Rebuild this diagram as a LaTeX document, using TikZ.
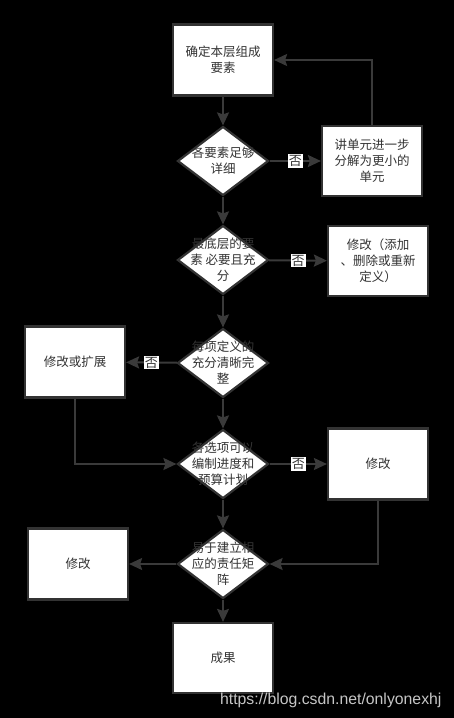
\documentclass[tikz,border=0pt]{standalone}
\usepackage{fontspec}
\newfontfamily\cjk{Noto Sans CJK SC}
\newfontfamily\wmfont{Liberation Sans}
\usepackage{tikz}
\usetikzlibrary{arrows.meta,positioning,shapes.geometric}
\definecolor{edgegray}{HTML}{3A3A3A}
\definecolor{inkgray}{HTML}{333333}
\tikzset{
  procbox/.style={draw=inkgray, line width=2.2pt, fill=white, minimum width=100pt, minimum height=71pt, inner sep=0pt, align=center, text=inkgray, font=\cjk\fontsize{12.5pt}{16pt}\selectfont},
  decbox/.style={diamond, draw=inkgray, line width=2.2pt, fill=white, minimum width=91pt, minimum height=69pt, inner sep=0pt},
  dectext/.style={align=center, text=inkgray, inner sep=0pt, font=\cjk\fontsize{12.5pt}{16pt}\selectfont},
  flowline/.style={-{Stealth[length=13pt,width=12pt,inset=2pt]}, draw=edgegray, line width=2pt},
  nolabel/.style={fill=white, inner sep=1pt, text=inkgray, font=\cjk\fontsize{13pt}{14pt}\selectfont},
}

\begin{document}
\begin{tikzpicture}[x=1pt, y=-1pt]
  % background
  \fill[black] (0,0) rectangle (454,718);

  \node[procbox] (b1) at (223,60) {确定本层组成\\要素};
  \node[decbox, label={[dectext]center:各要素足够\\详细}] (d1) at (223,161) {};
  \node[procbox, minimum height=70pt] (b2) at (372,161) {讲单元进一步\\分解为更小的\\单元};

  \node[decbox, label={[dectext]center:最底层的要\\素 必要且充\\分}] (d2) at (223,260) {};
  \node[procbox, minimum height=70pt] (b3) at (378,261) {修改（添加\\、删除或重新\\定义）};

  \node[decbox, label={[dectext]center:每项定义的\\充分清晰完\\整}] (d3) at (223,363) {};
  \node[procbox] (b4) at (75,362) {修改或扩展};

  \node[decbox, label={[dectext]center:各选项可以\\编制进度和\\预算计划}] (d4) at (223,464) {};
  \node[procbox] (b5) at (378,464) {修改};

  \node[decbox, label={[dectext]center:易于建立相\\应的责任矩\\阵}] (d5) at (223,564) {};
  \node[procbox] (b6) at (78,564) {修改};

  \node[procbox, minimum height=70pt] (b7) at (223,658) {成果};

  \draw[flowline] (b1) -- (d1);
  \draw[flowline] (d1) -- node[nolabel] (n1) {否} (b2);
  \draw[flowline] (b2.north) |- (b1.east);
  \draw[flowline] (d1) -- (d2);
  \draw[flowline] (d2) -- node[nolabel] (n2) {否} (b3);
  \draw[flowline] (d2) -- (d3);
  \draw[flowline] (d3) -- node[nolabel] (n3) {否} (b4);
  \draw[flowline] (b4.south) |- (d4.west);
  \draw[flowline] (d3) -- (d4);
  \draw[flowline] (d4) -- node[nolabel] (n4) {否} (b5);
  \draw[flowline] (b5.south) |- (d5.east);
  \draw[flowline] (d4) -- (d5);
  \draw[flowline] (d5) -- (b6);
  \draw[flowline] (d5) -- (b7);

  \node[anchor=east, text=gray!45, font=\wmfont\fontsize{15.8pt}{17pt}\selectfont] (wm) at (445,700) {https://blog.csdn.net/onlyonexhj};
\end{tikzpicture}
\end{document}
